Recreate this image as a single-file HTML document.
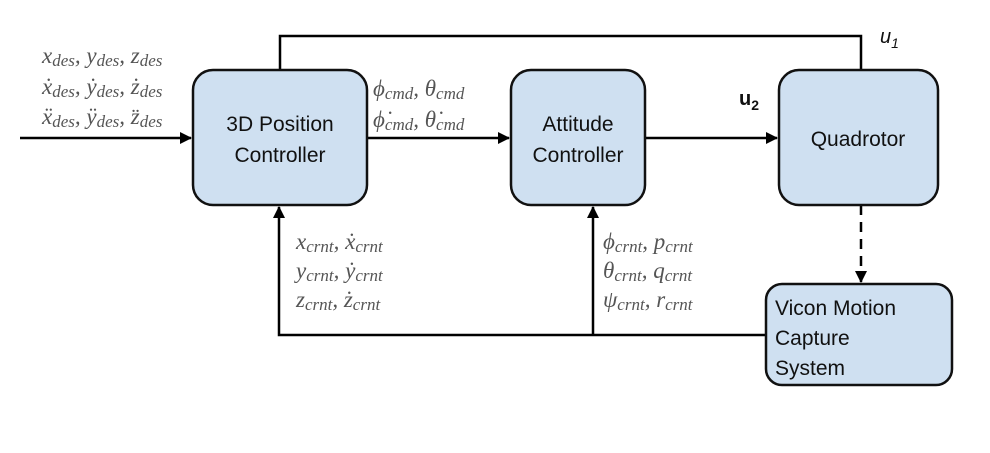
<!DOCTYPE html>
<html><head><meta charset="utf-8"><style>
body{margin:0;background:#fff;}
svg text{font-family:"Liberation Sans",sans-serif;}
.m{font-family:"Liberation Serif",serif;font-style:italic;fill:#555;font-size:23px;}
.s{font-size:17px;}
.b{font-size:21px;fill:#111;}
</style></head><body>
<svg width="990" height="448" viewBox="0 0 990 448" xmlns="http://www.w3.org/2000/svg">
<defs><marker id="a" markerWidth="12" markerHeight="12" refX="11" refY="6" orient="auto" markerUnits="userSpaceOnUse"><path d="M0,0 L12,6 L0,12 z" fill="#000"/></marker></defs>
<g stroke="#000" stroke-width="2.5" fill="none">
<path d="M280,70 V36 H861 V70"/>
<path d="M20,138 H191" marker-end="url(#a)"/>
<path d="M367,138 H509" marker-end="url(#a)"/>
<path d="M645,138 H777" marker-end="url(#a)"/>
<path d="M861,205 V282" stroke-dasharray="10,7" marker-end="url(#a)"/>
<path d="M766,335 H279 V207" marker-end="url(#a)"/>
<path d="M593,335 V207" marker-end="url(#a)"/>
</g>
<g fill="#cfe0f1" stroke="#111" stroke-width="2.5">
<rect x="193" y="70" width="174" height="135" rx="20"/>
<rect x="511" y="70" width="134" height="135" rx="20"/>
<rect x="779" y="70" width="159" height="135" rx="20"/>
<rect x="766" y="284" width="186" height="101" rx="16"/>
</g>
<text class="b" x="280" y="131" text-anchor="middle">3D Position</text>
<text class="b" x="280" y="162" text-anchor="middle">Controller</text>
<text class="b" x="578" y="131" text-anchor="middle">Attitude</text>
<text class="b" x="578" y="162" text-anchor="middle">Controller</text>
<text class="b" x="858" y="146" text-anchor="middle">Quadrotor</text>
<text class="b" x="775" y="315">Vicon Motion</text>
<text class="b" x="775" y="345">Capture</text>
<text class="b" x="775" y="375">System</text>
<text x="880" y="43" font-size="20" font-style="italic" fill="#111">u<tspan font-size="14" dy="5">1</tspan></text>
<text x="739" y="105" font-size="20" font-weight="bold" fill="#111">u<tspan font-size="14" dy="5">2</tspan></text>
<text class="m" x="42" y="63">x<tspan class="s" dy="3">des</tspan><tspan dy="-3">, y</tspan><tspan class="s" dy="3">des</tspan><tspan dy="-3">, z</tspan><tspan class="s" dy="3">des</tspan></text>
<text class="m" x="42" y="94">ẋ<tspan class="s" dy="3">des</tspan><tspan dy="-3">, ẏ</tspan><tspan class="s" dy="3">des</tspan><tspan dy="-3">, ż</tspan><tspan class="s" dy="3">des</tspan></text>
<text class="m" x="42" y="124">ẍ<tspan class="s" dy="3">des</tspan><tspan dy="-3">, ÿ</tspan><tspan class="s" dy="3">des</tspan><tspan dy="-3">, z̈</tspan><tspan class="s" dy="3">des</tspan></text>
<text class="m" x="373" y="96">ϕ<tspan class="s" dy="3">cmd</tspan><tspan dy="-3">, θ</tspan><tspan class="s" dy="3">cmd</tspan></text>
<text class="m" x="373" y="127">ϕ̇<tspan class="s" dy="3">cmd</tspan><tspan dy="-3">, θ̇</tspan><tspan class="s" dy="3">cmd</tspan></text>
<text class="m" x="296" y="249">x<tspan class="s" dy="3">crnt</tspan><tspan dy="-3">, ẋ</tspan><tspan class="s" dy="3">crnt</tspan></text>
<text class="m" x="296" y="278">y<tspan class="s" dy="3">crnt</tspan><tspan dy="-3">, ẏ</tspan><tspan class="s" dy="3">crnt</tspan></text>
<text class="m" x="296" y="307">z<tspan class="s" dy="3">crnt</tspan><tspan dy="-3">, ż</tspan><tspan class="s" dy="3">crnt</tspan></text>
<text class="m" x="603" y="249">ϕ<tspan class="s" dy="3">crnt</tspan><tspan dy="-3">, p</tspan><tspan class="s" dy="3">crnt</tspan></text>
<text class="m" x="603" y="278">θ<tspan class="s" dy="3">crnt</tspan><tspan dy="-3">, q</tspan><tspan class="s" dy="3">crnt</tspan></text>
<text class="m" x="603" y="307">ψ<tspan class="s" dy="3">crnt</tspan><tspan dy="-3">, r</tspan><tspan class="s" dy="3">crnt</tspan></text>
</svg>
</body></html>
